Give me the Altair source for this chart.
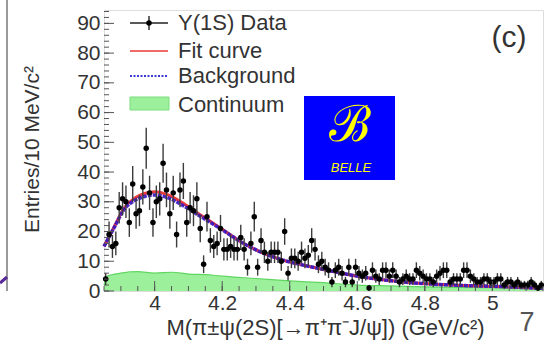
import altair as alt
import pandas as pd

# ---------------- data ----------------
# counts per 10 MeV bin, bins from 3.85 to 5.15 GeV
counts = [4, 19, 15, 16, 28, 31, 30, 23, 36, 26,
          27, 35, 48, 33, 23, 30, 31, 43, 34, 26,
          33, 19, 34, 37, 23, 28, 27, 31, 21, 9,
          25, 17, 15, 16, 21, 14, 14, 15, 14, 14,
          18, 14, 8, 16, 25, 8, 17, 13, 10, 13,
          13, 13, 10, 20, 6, 11, 11, 10, 13, 11,
          12, 17, 14, 9, 10, 8, 7, 3, 7, 8,
          6, 3, 8, 3, 8, 6, 5, 6, 1, 7,
          5, 4, 7, 7, 5, 7, 5, 3, 4, 5,
          4, 4, 7, 6, 5, 4, 4, 3, 5, 6,
          7, 7, 3, 4, 4, 4, 7, 7, 5, 4,
          3, 3, 4, 4, 3, 3, 4, 4, 2, 3,
          3, 2, 3, 2, 2, 2, 3, 2, 1, 2]
bin_start = 3.85
bin_width = 0.01
mass = [round(bin_start + bin_width * (i + 0.5), 4) for i in range(len(counts))]

fit_mass = [3.85, 3.88, 3.91, 3.94, 3.97, 4.00, 4.04, 4.08, 4.13, 4.20,
            4.26, 4.32, 4.38, 4.44, 4.49, 4.58, 4.73, 4.88, 5.02, 5.15]
fit_total = [15, 21.5, 28, 31.2, 32.8, 33.4, 32.3, 29.8, 26, 20.8,
             16.2, 12.8, 10.4, 8.7, 7.5, 5.4, 3.1, 2.0, 1.5, 0.9]
fit_bkg = [15, 21.3, 27.5, 30.4, 31.8, 32.3, 31.3, 29.0, 25.5, 20.6,
           16.2, 12.8, 10.4, 8.7, 7.5, 5.4, 3.1, 2.0, 1.5, 0.9]

cont_mass = [3.85, 3.86, 3.90, 3.95, 4.00, 4.05, 4.10, 4.15, 4.20, 4.30,
             4.40, 4.50, 4.60, 4.70, 4.80, 4.90, 5.00, 5.10, 5.15]
cont_val = [2, 5, 6, 6.5, 6, 6.3, 5.7, 5.5, 5, 4.2,
            3.4, 2.8, 2.0, 1.7, 1.4, 1.2, 1.1, 1.0, 1.0]

x_labels = [4.0, 4.2, 4.4, 4.6, 4.8, 5.0]
x_minor = [3.85, 3.9, 3.95, 4.0, 4.05, 4.1, 4.15, 4.2, 4.25, 4.3, 4.35, 4.4,
           4.45, 4.5, 4.55, 4.6, 4.65, 4.7, 4.75, 4.8, 4.85, 4.9, 4.95, 5.0,
           5.05, 5.1, 5.15]
y_labels = [0, 10, 20, 30, 40, 50, 60, 70, 80, 90]
y_minor = list(range(0, 95, 2))

legend_labels = ["Υ(1S) Data", "Fit curve", "Background", "Continuum"]

# ---------------- style ----------------
W, H = 439, 281
FONT = "Liberation Sans"
TXT = "#333333"

xs = alt.Scale(domain=[3.85, 5.15], nice=False, zero=False)
ys = alt.Scale(domain=[0, 94.5], nice=False, zero=False)

x_axis = alt.Axis(values=x_labels, format="~g", labelFont=FONT, labelFontSize=21,
                  labelColor=TXT, labelPadding=1, ticks=False, domain=False, grid=False,
                  labelFlush=False, labelOverlap=False,
                  title="M(π±ψ(2S)[→π⁺π⁻J/ψ]) (GeV/c²)", titleFont=FONT,
                  titleFontSize=22, titleFontWeight="normal", titleColor=TXT,
                  titleX=221, titleY=43, titleAlign="center", titleBaseline="alphabetic")
y_axis = alt.Axis(values=y_labels, labelFont=FONT, labelFontSize=21, labelColor=TXT,
                  labelPadding=4, ticks=False, domain=False, grid=False,
                  labelOverlap=False,
                  title="Entries/10 MeV/c²", titleFont=FONT, titleFontSize=21,
                  titleFontWeight="normal", titleColor=TXT, titleAngle=270,
                  titleX=-72, titleY=139, titleAlign="center", titleBaseline="middle")


def X(f):
    return alt.X(f, scale=xs, axis=x_axis)


def Y(f):
    return alt.Y(f, scale=ys, axis=y_axis)


df = pd.DataFrame({"mass": mass, "n": counts})
fit_df = pd.DataFrame({"mass": fit_mass, "total": fit_total, "bkg": fit_bkg})
cont_df = pd.DataFrame({"mass": cont_mass, "v": cont_val})

continuum = alt.Chart(cont_df).mark_area(
    color="#9cf09c", opacity=1, interpolate="monotone",
    line={"color": "#5fd65f", "strokeWidth": 1.2}
).encode(x=X("mass:Q"), y=Y("v:Q"))

fit_line = alt.Chart(fit_df).mark_line(
    color="#ee3b3b", strokeWidth=3, interpolate="monotone"
).encode(x=X("mass:Q"), y=Y("total:Q"))

bkg_line = alt.Chart(fit_df).mark_line(
    color="#3a18c0", strokeWidth=3.5, strokeDash=[4, 1], interpolate="monotone", opacity=0.92
).encode(x=X("mass:Q"), y=Y("bkg:Q"))

vbars = alt.Chart(df).transform_calculate(
    lo="datum.n - sqrt(datum.n)", hi="datum.n + sqrt(datum.n)"
).mark_rule(color="#3c3c3c", strokeWidth=1.4).encode(x=X("mass:Q"), y=Y("lo:Q"), y2="hi:Q")

hbars = alt.Chart(df).transform_calculate(
    x1="datum.mass - 0.005", x2="datum.mass + 0.005"
).mark_rule(color="#3c3c3c", strokeWidth=1.4).encode(x=X("x1:Q"), x2="x2:Q", y=Y("n:Q"))

points = alt.Chart(df).mark_circle(size=30, color="#000000", opacity=1).encode(
    x=X("mass:Q"), y=Y("n:Q"))

# inward ticks (ROOT style)
ymaj = alt.Chart(pd.DataFrame({"v": y_labels})).mark_rule(color="#555", strokeWidth=1).encode(
    y=Y("v:Q"), x=alt.value(0), x2=alt.value(10))
ymin = alt.Chart(pd.DataFrame({"v": y_minor})).mark_rule(color="#555", strokeWidth=1).encode(
    y=Y("v:Q"), x=alt.value(0), x2=alt.value(5))
xmaj = alt.Chart(pd.DataFrame({"v": x_labels})).mark_rule(color="#555", strokeWidth=1).encode(
    x=X("v:Q"), y=alt.value(H), y2=alt.value(H - 10))
xmin = alt.Chart(pd.DataFrame({"v": x_minor})).mark_rule(color="#555", strokeWidth=1).encode(
    x=X("v:Q"), y=alt.value(H), y2=alt.value(H - 5))

one = pd.DataFrame({"a": [0]})


def txt(text, x, y, size, color=TXT, align="left", style="normal", font=FONT, weight="normal"):
    return alt.Chart(one).mark_text(
        text=text, font=font, fontSize=size, color=color, align=align, baseline="middle",
        fontStyle=style, fontWeight=weight
    ).encode(x=alt.value(x), y=alt.value(y))


def seg(x1, x2, y1, y2, color, width, dash=None):
    kw = dict(color=color, strokeWidth=width)
    if dash:
        kw["strokeDash"] = dash
    return alt.Chart(one).mark_rule(**kw).encode(
        x=alt.value(x1), x2=alt.value(x2), y=alt.value(y1), y2=alt.value(y2))


legend_y = [13, 41, 66, 95]
legend = [
    seg(26, 64, legend_y[0], legend_y[0], "#222", 1.4),
    seg(45, 45, legend_y[0] - 7, legend_y[0] + 7, "#222", 1.4),
    alt.Chart(one).mark_circle(size=30, color="black", opacity=1).encode(
        x=alt.value(45), y=alt.value(legend_y[0])),
    seg(26, 64, legend_y[1], legend_y[1], "#f06a6a", 2),
    seg(26, 64, legend_y[2], legend_y[2], "#3a3ad8", 2.2, [2, 1.5]),
    alt.Chart(one).mark_rect(color="#9cf09c", stroke="#7ddc7d", strokeWidth=1).encode(
        x=alt.value(26), x2=alt.value(65), y=alt.value(87), y2=alt.value(100)),
]
for lab, yy in zip(legend_labels, legend_y):
    legend.append(txt(lab, 74, yy, 22))

belle = [
    alt.Chart(one).mark_rect(color="#0000ff").encode(
        x=alt.value(200), x2=alt.value(291), y=alt.value(86), y2=alt.value(170)),
    txt("ℬ", 246, 116, 50, color="#ffff00", align="center", font="DejaVu Serif"),
    txt("BELLE", 247, 158, 13, color="#ffff00", align="center", style="italic"),
]

extras = [
    txt("(c)", 405, 28, 30, align="center"),
    txt("7", 423, 313, 27, color="#555555", align="center"),
    seg(-97, -97, -10, H, "#9a9a9a", 2),
    seg(-104, -97, H - 8, H - 14, "#5a2a9a", 3),
]

chart = alt.layer(
    continuum, fit_line, bkg_line, vbars, hbars, points,
    ymaj, ymin, xmaj, xmin, *legend, *belle, *extras
).properties(
    width=W, height=H,
    autosize=alt.AutoSizeParams(type="none"),
    padding={"left": 104, "top": 10, "right": 6, "bottom": 61},
).configure_view(stroke="#8f8f8f", strokeWidth=2).configure(background="white")

chart.save("out.html", embed_options={"renderer": "svg", "actions": False})
